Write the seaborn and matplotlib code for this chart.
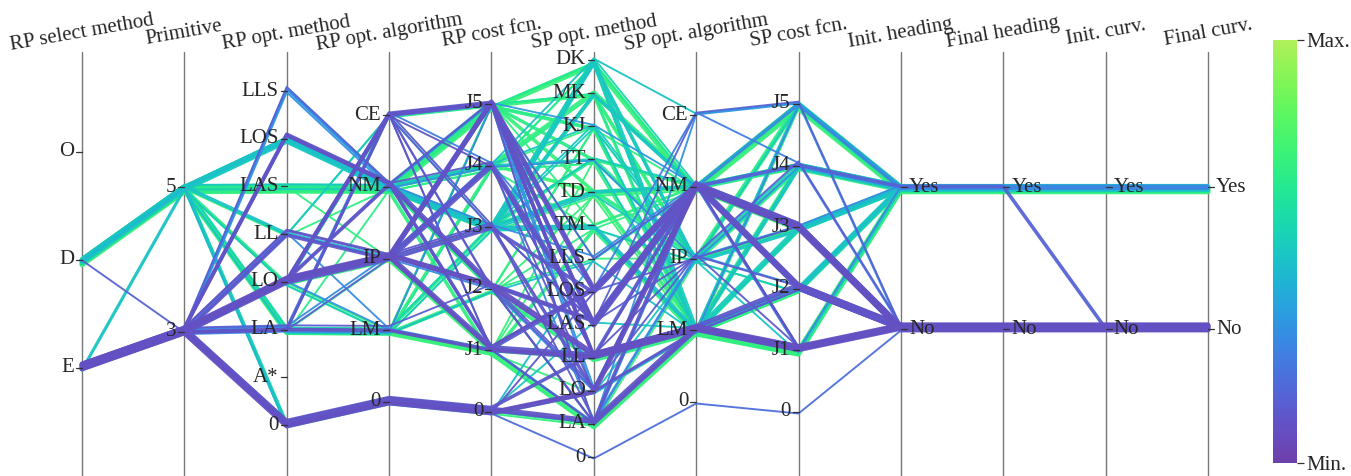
import numpy as np
import matplotlib
matplotlib.use("Agg")
import matplotlib.pyplot as plt
from matplotlib import font_manager as fm
import seaborn as sns
from matplotlib.colors import ListedColormap
from matplotlib.colorbar import ColorbarBase

# ---------------- data ----------------
sel_cats = ["O", "D", "E"]
prim_cats = ["5", "3"]
rp_method_cats = ["LLS", "LOS", "LAS", "LL", "LO", "LA", "A*", "0"]
alg_cats = ["CE", "NM", "IP", "LM", "0"]
cost_cats = ["J5", "J4", "J3", "J2", "J1", "0"]
sp_method_cats = ["DK", "MK", "KJ", "TT", "TD", "TM", "LLS", "LOS", "LAS",
                  "LL", "LO", "LA", "0"]
yn_cats = ["Yes", "No"]

axis_titles = ["RP select method", "Primitive", "RP opt. method",
               "RP opt. algorithm", "RP cost fcn.", "SP opt. method",
               "SP opt. algorithm", "SP cost fcn.", "Init. heading",
               "Final heading", "Init. curv.", "Final curv."]
axis_cats = [sel_cats, prim_cats, rp_method_cats, alg_cats, cost_cats,
             sp_method_cats, alg_cats, cost_cats, yn_cats, yn_cats, yn_cats,
             yn_cats]

green_paths = [
    "D 5 LAS NM J5 DK NM J5 Yes Yes Yes Yes",
    "D 5 LAS NM J4 MK NM J4 Yes Yes Yes Yes",
    "D 5 LAS NM J5 KJ LM J4 Yes Yes Yes Yes",
    "D 5 LAS NM J4 TD NM J5 Yes Yes Yes Yes",
    "D 5 LAS NM J3 TT IP J3 Yes Yes Yes Yes",
    "D 5 LAS NM J1 TM LM J1 Yes Yes Yes Yes",
    "D 5 LAS NM J2 LLS NM J4 Yes Yes Yes Yes",
    "D 5 LA LM J1 LA LM J1 Yes Yes Yes Yes",
    "D 5 LA LM J2 LL LM J2 Yes Yes Yes Yes",
    "D 5 LA LM J3 TD IP J5 Yes Yes Yes Yes",
    "D 5 LA LM J4 DK LM J3 Yes Yes Yes Yes",
    "D 5 LA LM J5 MK IP J4 Yes Yes Yes Yes",
    "D 5 LA IP J1 TT LM J5 Yes Yes Yes Yes",
    "D 5 LA LM J1 LA LM J2 Yes Yes Yes Yes",
    "D 5 0 0 0 LA LM J1 Yes Yes Yes Yes",
    "D 5 LO LM J2 TM IP J2 Yes Yes Yes Yes",
    "D 5 LO CE J5 DK NM J4 Yes Yes Yes Yes",
    "D 5 LL CE J5 MK LM J5 Yes Yes Yes Yes",
    "D 5 LAS NM J5 TD LM J4 Yes Yes Yes Yes",
    "D 5 LA LM J5 KJ IP J5 Yes Yes Yes Yes",
    "D 5 LAS IP J3 TM NM J5 Yes Yes Yes Yes",
    "D 5 LA LM J2 TD NM J3 Yes Yes Yes Yes",
    "D 5 LAS NM J5 TT NM J4 Yes Yes Yes Yes",
    "D 5 LAS NM J4 KJ LM J3 Yes Yes Yes Yes",
    "D 5 LAS NM J5 MK IP J5 Yes Yes Yes Yes",
    "D 5 LAS NM J4 DK IP J4 Yes Yes Yes Yes",
    "D 5 LAS NM J5 TM NM J4 Yes Yes Yes Yes",
    "D 5 LAS NM J4 TT LM J5 Yes Yes Yes Yes",
    "D 5 LA LM J1 TD NM J4 Yes Yes Yes Yes",
    "D 5 LA LM J2 KJ NM J5 Yes Yes Yes Yes",
    "D 5 LA LM J3 MK LM J4 Yes Yes Yes Yes",
    "D 5 LA LM J1 LL LM J1 Yes Yes Yes Yes",
    "D 5 LA NM J5 DK LM J5 Yes Yes Yes Yes",
    "D 5 LO LM J4 TT NM J3 Yes Yes Yes Yes",
    "D 5 LAS NM J2 LA LM J2 Yes Yes Yes Yes",
    "D 5 LAS NM J5 LLS IP J4 Yes Yes Yes Yes",
    "D 5 0 0 0 LA IP J3 Yes Yes Yes Yes",
    "D 5 LA LM J4 TM NM J5 Yes Yes Yes Yes",
    "D 5 LAS NM J3 TD LM J1 Yes Yes Yes Yes",
    "D 5 LA LM J5 TT IP J5 Yes Yes Yes Yes",
    "D 5 LL NM J2 KJ LM J4 Yes Yes Yes Yes",
    "D 5 LO IP J1 LO LM J1 Yes Yes Yes Yes",
]
green_scores = [0.72, 0.70, 0.68, 0.74, 0.66, 0.70, 0.68, 0.72, 0.70, 0.68,
                0.66, 0.70, 0.72, 0.74, 0.70, 0.70, 0.66, 0.64, 0.72, 0.70,
                0.70, 0.72, 0.69, 0.71, 0.73, 0.70, 0.71, 0.69, 0.72, 0.70,
                0.71, 0.73, 0.68, 0.70, 0.70, 0.72, 0.71, 0.70, 0.72, 0.68,
                0.70, 0.72]
green_counts = [3, 3, 2, 2, 2, 2, 1, 3, 2, 2, 1, 1, 1, 1, 2, 1, 1, 1, 2, 1,
                1, 1, 1, 1, 2, 1, 1, 1, 1, 1, 1, 2, 1, 1, 1, 1, 1, 1, 1, 1,
                1, 1]

cyan_paths = [
    "D 5 LOS NM J3 DK LM J3 Yes Yes Yes Yes",
    "D 5 LOS NM J3 TD NM J4 Yes Yes Yes Yes",
    "D 5 LOS NM J3 TM LM J2 Yes Yes Yes Yes",
    "D 5 LOS NM J3 TT NM J5 Yes Yes Yes Yes",
    "D 5 LAS NM J3 KJ IP J4 Yes Yes Yes Yes",
    "D 5 0 0 0 LO IP J1 Yes Yes Yes Yes",
    "E 5 LL CE J3 MK NM J4 Yes Yes Yes Yes",
    "D 5 LL IP J4 DK CE J5 Yes Yes Yes Yes",
    "D 5 LOS NM J4 KJ LM J5 Yes Yes Yes Yes",
    "D 5 LO LM J3 TM IP J2 Yes Yes Yes Yes",
    "D 5 0 0 0 LLS NM J3 Yes Yes Yes Yes",
    "D 5 LOS NM J3 DK IP J3 Yes Yes Yes Yes",
    "D 5 LOS NM J3 MK NM J3 Yes Yes Yes Yes",
    "D 5 LOS NM J3 KJ IP J5 Yes Yes Yes Yes",
    "D 5 LOS NM J4 TT LM J4 Yes Yes Yes Yes",
    "D 5 LAS NM J3 TM LM J3 Yes Yes Yes Yes",
    "D 5 LA LM J3 DK NM J4 Yes Yes Yes Yes",
    "E 5 LA LM J2 LLS LM J4 Yes Yes Yes Yes",
    "D 5 0 0 0 LAS LM J2 Yes Yes Yes Yes",
    "D 5 LOS NM J3 TD IP J4 Yes Yes Yes Yes",
]
cyan_scores = [0.52, 0.50, 0.48, 0.52, 0.50, 0.50, 0.50, 0.48, 0.50, 0.52,
               0.45, 0.50, 0.50, 0.52, 0.50, 0.53, 0.55, 0.48, 0.50, 0.50]
cyan_counts = [3, 2, 2, 1, 1, 1, 1, 1, 1, 1, 1, 2, 2, 1, 1, 1, 1, 1, 1, 1]

blue_paths = [
    "E 3 LLS NM J5 KJ NM J5 Yes Yes Yes Yes",
    "E 3 LLS NM J4 TT IP J4 Yes Yes Yes Yes",
    "E 3 LLS NM J3 LLS NM J2 No No No No",
    "E 3 LA LM J5 LO LM J5 Yes Yes Yes Yes",
    "E 3 LO LM J1 LA CE J5 No No No No",
    "E 3 LA CE J5 LA NM J5 Yes Yes Yes Yes",
    "E 3 LL IP J2 LO NM J4 Yes Yes Yes Yes",
    "E 3 0 0 0 LA NM J1 Yes Yes Yes Yes",
    "E 3 LA CE J4 LOS CE J4 No No No No",
    "E 3 LL LM J1 LA IP J3 Yes Yes Yes Yes",
    "E 3 LLS NM J5 LO NM J1 No No No No",
    "E 3 LA IP J4 LA IP J2 No No No No",
]
blue_scores = [0.35, 0.32, 0.30, 0.30, 0.32, 0.28, 0.30, 0.28, 0.26, 0.30,
               0.33, 0.30]
blue_counts = [1, 1, 1, 1, 1, 1, 1, 1, 1, 1, 1, 1]

purple_paths = [
    "E 3 LO IP J5 LOS NM J3 No No No No",
    "E 3 LO IP J4 LAS NM J3 No No No No",
    "E 3 LO IP J2 LL LM J1 No No No No",
    "E 3 LO IP J1 LOS NM J2 No No No No",
    "E 3 LO CE J5 LL LM J1 No No No No",
    "E 3 LO CE J4 LAS NM J2 No No No No",
    "E 3 LO CE J2 LO NM J3 No No No No",
    "E 3 LO NM J2 LA LM J1 No No No No",
    "E 3 0 0 0 LO NM J3 No No No No",
    "E 3 0 0 0 LA LM J1 No No No No",
    "E 3 0 0 0 0 0 0 No No No No",
    "E 3 LOS NM J2 LAS NM J2 No No No No",
    "E 3 LOS NM J1 LL LM J1 No No No No",
    "E 3 LL IP J3 LOS NM J3 No No No No",
    "E 3 LL IP J4 LL NM J2 No No No No",
    "E 3 LA CE J1 LA NM J3 No No No No",
    "E 3 LA CE J3 LO LM J2 No No No No",
    "E 3 LA LM J1 LL LM J1 No No No No",
    "E 3 LO CE J3 LAS NM J1 No No No No",
    "E 3 LO IP J3 LO NM J2 No No No No",
    "D 3 LA IP J5 LLS NM J3 No No No No",
    "E 3 0 0 0 LL LM J2 No No No No",
    "E 3 LO IP J5 LAS NM J1 No No No No",
    "E 3 LO CE J1 LOS IP J3 No No No No",
    "E 3 LL IP J5 LL NM J3 No No No No",
    "E 3 LO IP J2 LA LM J2 No No No No",
    "E 3 0 0 0 LOS NM J2 No No No No",
    "E 3 LOS NM J2 LAS IP J2 No No No No",
    "E 3 LO NM J4 LL IP J1 No No No No",
    "E 3 LO IP J5 LAS NM J4 Yes Yes No No",
    "E 3 LO IP J3 LAS CE J5 No No No No",
    "E 3 LA LM J2 LO IP J4 No No No No",
    "E 3 LO IP J5 LL LM J1 No No No No",
    "E 3 LO IP J4 LO NM J2 No No No No",
    "E 3 LO CE J5 LAS NM J3 No No No No",
    "E 3 LO CE J5 LA LM J2 No No No No",
    "E 3 LOS NM J1 LOS NM J3 No No No No",
    "E 3 LL IP J2 LAS NM J3 No No No No",
    "E 3 LA CE J2 LL NM J2 No No No No",
    "E 3 LO IP J1 LL LM J1 No No No No",
    "E 3 LO NM J5 LOS NM J1 No No No No",
    "E 3 LLS NM J1 LOS NM J2 No No No No",
    "E 3 0 0 0 LO LM J1 No No No No",
    "E 3 LO IP J3 LA NM J3 No No No No",
]
purple_scores = [0.10, 0.12, 0.08, 0.10, 0.12, 0.10, 0.14, 0.10, 0.08, 0.10,
                 0.20, 0.10, 0.12, 0.12, 0.14, 0.12, 0.14, 0.10, 0.12, 0.10,
                 0.15, 0.12, 0.10, 0.14, 0.12, 0.12, 0.10, 0.14, 0.12, 0.16,
                 0.16, 0.14, 0.09, 0.11, 0.10, 0.12, 0.10, 0.10, 0.12, 0.08,
                 0.12, 0.16, 0.10, 0.12]
purple_counts = [3, 3, 3, 2, 2, 1, 1, 1, 3, 3, 1, 2, 2, 2, 1, 1, 1, 2, 1, 1,
                 1, 2, 1, 1, 1, 1, 1, 1, 1, 2, 1, 1, 2, 1, 2, 1, 1, 1, 1, 2,
                 1, 1, 1, 1]

# ---------------- layout (pixels) ----------------
W, H = 1351, 476
axis_x0, axis_dx = 82, 102.36
axis_span = [(152, 368), (187, 332), (91, 425), (115, 402), (104, 412),
             (60, 457), (115, 402), (104, 412), (187, 329), (187, 329),
             (187, 329), (187, 329)]
fs = 15

serif_path = fm.findfont(fm.FontProperties(family="Liberation Serif"))


def cool_cmap(n=256):
    t = np.linspace(0, 1, n)
    h = np.deg2rad(260 - 180 * t + 120)
    s = 0.75 + 0.75 * t
    l = 0.35 + 0.45 * t
    a = s * l * (1 - l)
    ch, sh = np.cos(h), np.sin(h)
    r = l + a * (-0.14861 * ch + 1.78277 * sh)
    g = l + a * (-0.29227 * ch - 0.90649 * sh)
    b = l + a * (1.97294 * ch)
    rgb = np.clip(np.stack([r, g, b], axis=1), 0, 1)
    return ListedColormap(rgb)


cmap = cool_cmap()


def ypos(i, cat):
    cats = axis_cats[i]
    top, bot = axis_span[i]
    k = cats.index(cat)
    return top + k * (bot - top) / (len(cats) - 1)


sns.set_theme(style="white")
plt.rcParams["font.family"] = ["Liberation Serif", "DejaVu Serif"]

fig = plt.figure(figsize=(W / 100, H / 100), dpi=100)
ax = fig.add_axes([0, 0, 1, 1])
ax.set_xlim(0, W)
ax.set_ylim(H, 0)
ax.axis("off")

xs = [axis_x0 + i * axis_dx for i in range(12)]

for i, x in enumerate(xs):
    ax.plot([x, x], [52, H], color="#777777", lw=1.0, zorder=1)

rows = []
for paths, scores, counts in [(green_paths, green_scores, green_counts),
                              (cyan_paths, cyan_scores, cyan_counts),
                              (blue_paths, blue_scores, blue_counts),
                              (purple_paths, purple_scores, purple_counts)]:
    for p, s, c in zip(paths, scores, counts):
        rows.append((p.split(), s, c))

rows.sort(key=lambda r: -r[1])
for j, (vals, s, c) in enumerate(rows):
    off = (s - 0.4) * 6 + ((j * 5) % 7 - 3) * 0.9
    ys = [ypos(i, v) + off for i, v in enumerate(vals)]
    lw_px = 1.9 + 1.7 * (c - 1)
    sns.lineplot(x=xs, y=ys, ax=ax, color=cmap(s), linewidth=lw_px * 0.72,
                 sort=False, estimator=None, legend=False, zorder=2 + j * 0.01,
                 alpha=0.95)

fp = fm.FontProperties(fname=serif_path, size=fs)
for i, x in enumerate(xs):
    right = i >= 8
    for cat in axis_cats[i]:
        y = ypos(i, cat)
        if right:
            ax.plot([x, x + 6], [y, y], color="#333333", lw=0.9, zorder=5)
            ax.text(x + 8, y, cat, ha="left", va="center",
                    fontproperties=fp, zorder=6)
        else:
            ax.plot([x - 6, x], [y, y], color="#333333", lw=0.9, zorder=5)
            ax.text(x - 8, y, cat, ha="right", va="center",
                    fontproperties=fp, zorder=6)
    ax.text(x, 33, axis_titles[i], ha="center", va="center", rotation=10,
            rotation_mode="anchor", fontproperties=fp, zorder=6)

cax = fig.add_axes([1273 / W, 1 - 463 / H, 24 / W, 423 / H])
cb = ColorbarBase(cax, cmap=cmap, orientation="vertical", ticks=[0, 1])
cb.outline.set_visible(False)
cb.set_ticklabels(["Min.", "Max."])
cax.tick_params(axis="y", length=5, width=0.9, color="#333333", pad=2)
for t in cax.get_yticklabels():
    t.set_fontproperties(fp)

fig.savefig("out.png", dpi=100)
